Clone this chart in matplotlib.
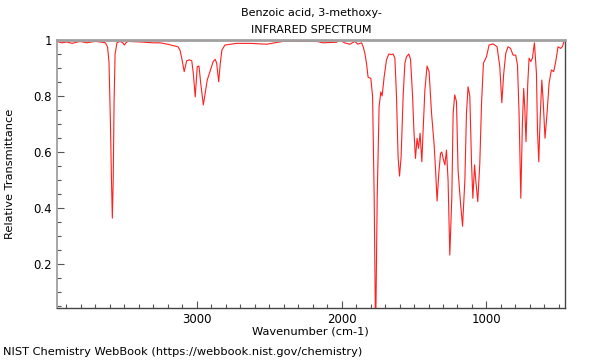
import matplotlib
matplotlib.use("Agg")
import matplotlib.pyplot as plt
from matplotlib.ticker import MultipleLocator, FuncFormatter

title_lines = ["Benzoic acid, 3-methoxy-", "INFRARED SPECTRUM"]
x_label = "Wavenumber (cm-1)"
y_label = "Relative Transmittance"
footer = "NIST Chemistry WebBook (https://webbook.nist.gov/chemistry)"

wavenumber = [
    3966, 3930, 3897, 3860, 3805, 3760, 3700, 3667, 3630, 3615, 3605, 3595, 3588, 3582,
    3576, 3570, 3563, 3550, 3529, 3510, 3499, 3488, 3474, 3391, 3300, 3253, 3200, 3163,
    3129, 3115, 3103, 3086, 3069, 3051, 3034, 3023, 3010, 2996, 2984, 2972, 2954, 2941,
    2927, 2908, 2886, 2872, 2862, 2848, 2837, 2826, 2805, 2724, 2632, 2517, 2405, 2288,
    2170, 2129, 2034, 2012, 1980, 1943, 1908, 1888, 1862, 1851, 1839, 1828, 1817, 1798,
    1786, 1775, 1767, 1763, 1754, 1741, 1729, 1720, 1706, 1690, 1674, 1655, 1644, 1632, 1621,
    1610, 1600, 1589, 1575, 1563, 1552, 1536, 1524, 1510, 1501, 1490, 1479, 1469, 1458,
    1446, 1437, 1425, 1410, 1396, 1379, 1361, 1350, 1341, 1329, 1317, 1308, 1299, 1287,
    1276, 1265, 1253, 1239, 1230, 1219, 1207, 1196, 1179, 1165, 1149, 1138, 1127, 1115,
    1103, 1094, 1082, 1074, 1060, 1046, 1034, 1021, 1000, 982, 954, 927, 908, 894,
    881, 867, 851, 834, 816, 798, 786, 775, 763, 752, 743, 736, 727, 715,
    706, 694, 683, 669, 655, 648, 639, 630, 618, 609, 596, 582, 568, 552,
    536, 522, 506, 489, 476, 465,
]
transmittance = [
    0.995, 0.99, 0.993, 0.988, 0.995, 0.99, 0.995, 0.993, 0.99, 0.975, 0.92, 0.7, 0.5, 0.364,
    0.5, 0.78, 0.95, 0.99, 0.995, 0.99, 0.982, 0.99, 0.995, 0.993, 0.99, 0.99, 0.985, 0.98,
    0.976, 0.964, 0.935, 0.887, 0.926, 0.929, 0.926, 0.88, 0.797, 0.905, 0.907, 0.845, 0.768, 0.81,
    0.857, 0.887, 0.923, 0.931, 0.917, 0.851, 0.917, 0.964, 0.982, 0.988, 0.988, 0.985, 0.995, 0.995,
    0.995, 0.99, 0.992, 1.0, 0.99, 0.985, 0.995, 0.985, 0.99, 0.976, 0.952, 0.917, 0.867, 0.863,
    0.8, 0.44, 0.03, 0.03, 0.44, 0.762, 0.815, 0.8, 0.869, 0.929, 0.95, 0.948, 0.95, 0.935, 0.8,
    0.583, 0.514, 0.583, 0.8, 0.917, 0.94, 0.95, 0.931, 0.8, 0.679, 0.577, 0.649, 0.613, 0.667,
    0.565, 0.679, 0.821, 0.907, 0.887, 0.738, 0.625, 0.524, 0.425, 0.524, 0.595, 0.60, 0.577, 0.554,
    0.607, 0.5, 0.232, 0.44, 0.738, 0.804, 0.78, 0.536, 0.417, 0.335, 0.5, 0.738, 0.833, 0.8,
    0.56, 0.435, 0.554, 0.5, 0.423, 0.56, 0.774, 0.917, 0.94, 0.982, 0.986, 0.976, 0.905, 0.776,
    0.88, 0.952, 0.976, 0.97, 0.946, 0.946, 0.911, 0.738, 0.435, 0.702, 0.827, 0.762, 0.637, 0.845,
    0.935, 0.923, 0.935, 0.99, 0.88, 0.679, 0.565, 0.714, 0.857, 0.786, 0.649, 0.738, 0.845, 0.893,
    0.887, 0.923, 0.976, 0.97, 0.976, 0.994,
]

x_major = [3000, 2000, 1000]
y_major = [0.2, 0.4, 0.6, 0.8, 1.0]

fig = plt.figure(figsize=(6, 3.6), dpi=100)
ax = fig.add_axes([56.7 / 600, 1 - 308 / 360, (565 - 56.7) / 600, (308 - 40) / 360])

ax.plot(wavenumber, transmittance, color="#ff2020", lw=0.8)
ax.set_xlim(3966, 458)
ax.set_ylim(0.043, 1.0)

ax.set_xticks(x_major)
ax.xaxis.set_minor_locator(MultipleLocator(100))
ax.set_yticks(y_major)
ax.yaxis.set_minor_locator(MultipleLocator(0.05))
ax.yaxis.set_major_formatter(FuncFormatter(lambda v, p: "1" if abs(v - 1) < 1e-9 else f"{v:.1f}"))

ax.tick_params(which="both", direction="in", colors="#555555", labelcolor="black", labelsize=8.5)
ax.tick_params(which="major", length=5, width=0.8)
ax.tick_params(which="minor", length=3, width=0.8)

for side in ["top", "left"]:
    ax.spines[side].set_color("#a0a0a0")
ax.spines["top"].set_linewidth(2)
ax.spines["left"].set_linewidth(1.3)
for side in ["bottom", "right"]:
    ax.spines[side].set_color("#444444")
    ax.spines[side].set_linewidth(1.0)

ax.set_xlabel(x_label, fontsize=8.2)
ax.xaxis.set_label_coords(0.5, -(331 - 308) / 268, transform=ax.transAxes)
ax.xaxis.label.set_va("center")
ax.set_ylabel(y_label, fontsize=8.2)
ax.yaxis.set_label_coords(-(56.7 - 10) / 508.3, 0.5, transform=ax.transAxes)
ax.yaxis.label.set_va("center")

fig.text(311 / 600, 1 - 13 / 360, title_lines[0], ha="center", va="center", fontsize=8.0)
fig.text(311 / 600, 1 - 30 / 360, title_lines[1], ha="center", va="center", fontsize=8.0)
fig.text(3 / 600, 1 - 352 / 360, footer, ha="left", va="center", fontsize=8.2)

fig.savefig("out.png", dpi=100)
